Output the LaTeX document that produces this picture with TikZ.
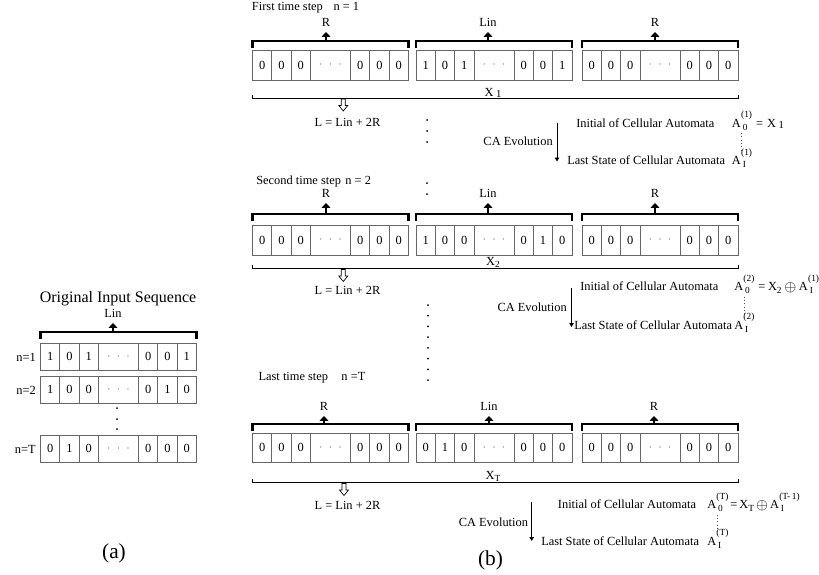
\documentclass[tikz,border=0pt]{standalone}
\usepackage{fontspec}
\setmainfont{Liberation Serif}
\usepackage{graphicx}
\usetikzlibrary{arrows.meta,calc}

\newcommand\ssz{\fontsize{7}{8}\selectfont}
\newcommand\Asym[2]{A\kern0.2pt\makebox[0pt][l]{\kern1.2pt\raisebox{-2.6pt}{\ssz #2}}\raisebox{7pt}{\ssz #1}}
\newcommand\Xsym[1]{X\raisebox{-2pt}{\ssz #1}}
\newcommand\oplusbig{\raisebox{-0.6pt}{\scalebox{1.25}{$\oplus$}}}
\newcommand\cdotsg{\textcolor{black!55}{$\cdot\;\cdot\;\cdot$}}

% one row of bits: name, (x,y) top-left, height, six digits
\newcommand\bitrow[9]{%
  \node[bitcell, minimum height=#3, anchor=north west] (#1-1) at #2 {#4};
  \node[bitcell, minimum height=#3, anchor=west] (#1-2) at (#1-1.east) {#5};
  \node[bitcell, minimum height=#3, anchor=west] (#1-3) at (#1-2.east) {#6};
  \node[bitcell, minimum height=#3, minimum width=30pt, anchor=west] (#1-4) at (#1-3.east) {\cdotsg};
  \node[bitcell, minimum height=#3, anchor=west] (#1-5) at (#1-4.east) {#7};
  \node[bitcell, minimum height=#3, anchor=west] (#1-6) at (#1-5.east) {#8};
  \node[bitcell, minimum height=#3, anchor=west] (#1-7) at (#1-6.east) {#9};
}
% bracket above a row: name, x left, x right, y, label x, label baseline, label
\newcommand\bracketover[7]{%
  \draw[brack] (#2,#4+7) -- (#2,#4) -- (#3,#4) -- (#3,#4+7);
  \coordinate (#1m) at (#5,#4);
  \node[txt, anchor=base] (#1) at (#5,#6) {#7};
  \draw[uparr, shorten >=4.3pt] (#1m) -- (#1.south);
}

\begin{document}
\begin{tikzpicture}[x=0.75pt,y=-0.75pt,
  bitcell/.style={draw=black!60, line width=0.75pt, inner sep=0pt, outer sep=0pt,
    minimum width=14.5pt, font=\fontsize{9.3}{11}\selectfont},
  brack/.style={line width=1.6pt, line cap=butt, line join=miter},
  uparr/.style={line width=2.2pt, -{Triangle[length=3.6pt,width=6.5pt]}},
  xline/.style={line width=0.7pt},
  txt/.style={font=\fontsize{9.3}{11}\selectfont, inner sep=0pt},
  bigtitle/.style={font=\fontsize{12}{14}\selectfont, inner sep=0pt},
  captext/.style={font=\fontsize{16}{18}\selectfont, inner sep=0pt},
  hollow/.style={draw=black, line width=0.5pt, fill=white},
  evarr/.style={line width=0.6pt, -{Triangle[length=3pt,width=3.4pt]}},
  dotline/.style={line width=0.5pt, dotted, black!70},
  dotfill/.style={fill=black}]
\useasboundingbox (0,0) rectangle (819,575);

% ================= (a) =================
\node[bigtitle, anchor=base] (otitle) at (118,302) {Original Input Sequence};
\bracketover{la}{40.5}{196.5}{331.7}{113}{317}{Lin}
\bitrow{ra}{(40.5,343.5)}{19.9pt}{1}{0}{1}{0}{0}{1}
\bitrow{rb}{(40.5,376.5)}{19.9pt}{1}{0}{0}{0}{1}{0}
\bitrow{rt}{(40.5,435.5)}{19.9pt}{0}{1}{0}{0}{0}{0}
\node[txt, anchor=base east] (na) at (36,361) {n=1};
\node[txt, anchor=base east] (nb) at (36,394) {n=2};
\node[txt, anchor=base east] (nt) at (36,453) {n=T};
\fill[dotfill] (117,408) circle[radius=0.75pt];
\fill[dotfill] (117,419) circle[radius=0.75pt];
\fill[dotfill] (117,429) circle[radius=0.75pt];
\node[captext, anchor=base] (capa) at (114,558.6) {(a)};

% ================= block 1 =================
\node[txt, anchor=base west] (t1) at (251.7,10) {First time step\hspace{8pt}n = 1};
\bitrow{b1a}{(252.5,50)}{22.5pt}{0}{0}{0}{0}{0}{0}
\bitrow{b1b}{(416,50)}{22.5pt}{1}{0}{1}{0}{0}{1}
\bitrow{b1c}{(582,50)}{22.5pt}{0}{0}{0}{0}{0}{0}
\bracketover{r1a}{252.5}{408.5}{41}{326}{26}{R}
\bracketover{r1b}{416}{572}{41}{488}{26}{Lin}
\bracketover{r1c}{582}{738}{41}{655}{26}{R}
\draw[xline] (252.5,95) -- (252.5,98.3) -- (738.5,98.3) -- (738.5,95);
\node[txt, anchor=base] (x1) at (493,96) {X\kern2pt\raisebox{-1pt}{\fontsize{8}{9}\selectfont 1}};
\coordinate (h1) at (343.3,99);
\draw[hollow, shift={(h1)}] (-2,0) -- (2,0) -- (2,6.5) -- (4.5,6.5) -- (0,12) -- (-4.5,6.5) -- (-2,6.5) -- cycle;
\node[txt, anchor=base] (l1) at (347.5,126) {L = Lin + 2R};
\fill[dotfill] (427,120) circle[radius=0.75pt];
\fill[dotfill] (427,131) circle[radius=0.75pt];
\fill[dotfill] (427,142) circle[radius=0.75pt];
\fill[dotfill] (427,183) circle[radius=0.75pt];
\fill[dotfill] (427,194) circle[radius=0.75pt];
\node[txt, anchor=base west] (i1) at (576,127) {Initial of Cellular Automata};
\node[txt, anchor=base west] (f1a) at (731.7,127) {\Asym{(1)}{0}\kern3pt=\kern3pt X\kern2pt\raisebox{-1pt}{\fontsize{8}{9}\selectfont 1}};
\node[txt, anchor=base east] (c1) at (553,145) {CA Evolution};
\coordinate (e1s) at (557,122.5);
\coordinate (e1e) at (557,161.5);
\draw[evarr] (e1s) -- (e1e);
\node[txt, anchor=base west] (s1) at (567,164.5) {Last State of Cellular Automata};
\node[txt, anchor=base west] (f1b) at (731.7,164.5) {\Asym{(1)}{I}};
\draw[dotline] ($(f1a.base west)+(10,6)$) -- ($(f1b.base west)+(10,-12)$);

% ================= block 2 =================
\node[txt, anchor=base west] (t2) at (256,184) {Second time step\hspace{1pt} n = 2};
\bitrow{b2a}{(252.5,225)}{22.5pt}{0}{0}{0}{0}{0}{0}
\bitrow{b2b}{(416,225)}{22.5pt}{1}{0}{0}{0}{1}{0}
\bitrow{b2c}{(582,225)}{22.5pt}{0}{0}{0}{0}{0}{0}
\bracketover{r2a}{252.5}{408.5}{214}{326}{197}{R}
\bracketover{r2b}{416}{572}{214}{488}{197}{Lin}
\bracketover{r2c}{582}{738}{214}{655}{197}{R}
\draw[xline] (252.5,264.5) -- (252.5,268.3) -- (738.5,268.3) -- (738.5,264.5);
\node[txt, anchor=base] (x2) at (493,265) {\Xsym{2}};
\coordinate (h2) at (343.3,269.5);
\draw[hollow, shift={(h2)}] (-2,0) -- (2,0) -- (2,6.5) -- (4.5,6.5) -- (0,12) -- (-4.5,6.5) -- (-2,6.5) -- cycle;
\node[txt, anchor=base] (l2) at (347.5,294) {L = Lin + 2R};
\foreach \yy in {305,315.7,326.4,337.1,347.9,358.6,369.3,380}
  \fill[dotfill] (428,\yy) circle[radius=0.75pt];
\node[txt, anchor=base west] (i2) at (580,290) {Initial of Cellular Automata};
\node[txt, anchor=base west] (f2a) at (734,290.5) {\Asym{(2)}{0}\kern3pt=\kern2pt\Xsym{2}\kern2pt\oplusbig\kern2pt\Asym{(1)}{I}};
\node[txt, anchor=base east] (c2) at (567,311) {CA Evolution};
\coordinate (e2s) at (571.5,288);
\coordinate (e2e) at (571.5,327);
\draw[evarr] (e2s) -- (e2e);
\node[txt, anchor=base west] (s2) at (574,329) {Last State of Cellular Automata};
\node[txt, anchor=base west] (f2b) at (734,329) {\Asym{(2)}{I}};
\draw[dotline] ($(f2a.base west)+(10,6)$) -- ($(f2b.base west)+(10,-12)$);

% ================= block 3 =================
\node[txt, anchor=base west] (t3) at (258.3,380) {Last time step\hspace{10pt}n =T};
\bitrow{b3a}{(252.5,433)}{22pt}{0}{0}{0}{0}{0}{0}
\bitrow{b3b}{(416,433)}{22pt}{0}{1}{0}{0}{0}{0}
\bitrow{b3c}{(582,433)}{22pt}{0}{0}{0}{0}{0}{0}
\bracketover{r3a}{252.5}{408.5}{424}{324}{410}{R}
\bracketover{r3b}{416}{572}{424}{489}{410}{Lin}
\bracketover{r3c}{582}{738}{424}{654}{410}{R}
\draw[xline] (252.5,479) -- (252.5,482.7) -- (738.5,482.7) -- (738.5,479);
\node[txt, anchor=base] (x3) at (493,479.3) {\Xsym{T}};
\coordinate (h3) at (344,483.5);
\draw[hollow, shift={(h3)}] (-2,0) -- (2,0) -- (2,6.5) -- (4.5,6.5) -- (0,12) -- (-4.5,6.5) -- (-2,6.5) -- cycle;
\node[txt, anchor=base] (l3) at (347.5,509) {L = Lin + 2R};
\node[txt, anchor=base west] (i3) at (557.7,508) {Initial of Cellular Automata};
\node[txt, anchor=base west] (f3a) at (707,508.5) {\Asym{(T)}{0}\kern1.5pt=\kern1.5pt\Xsym{T}\kern1.5pt\oplusbig\kern1.5pt\Asym{(T-\,1)}{I}};
\node[txt, anchor=base east] (c3) at (528.3,526.3) {CA Evolution};
\coordinate (e3s) at (531.7,502);
\coordinate (e3e) at (531.7,541);
\draw[evarr] (e3s) -- (e3e);
\node[txt, anchor=base west] (s3) at (541,545) {Last State of Cellular Automata};
\node[txt, anchor=base west] (f3b) at (707,545) {\Asym{(T)}{I}};
\draw[dotline] ($(f3a.base west)+(10,6)$) -- ($(f3b.base west)+(10,-12)$);
\node[captext, anchor=base] (capb) at (490.5,565) {(b)};
\end{tikzpicture}
\end{document}
